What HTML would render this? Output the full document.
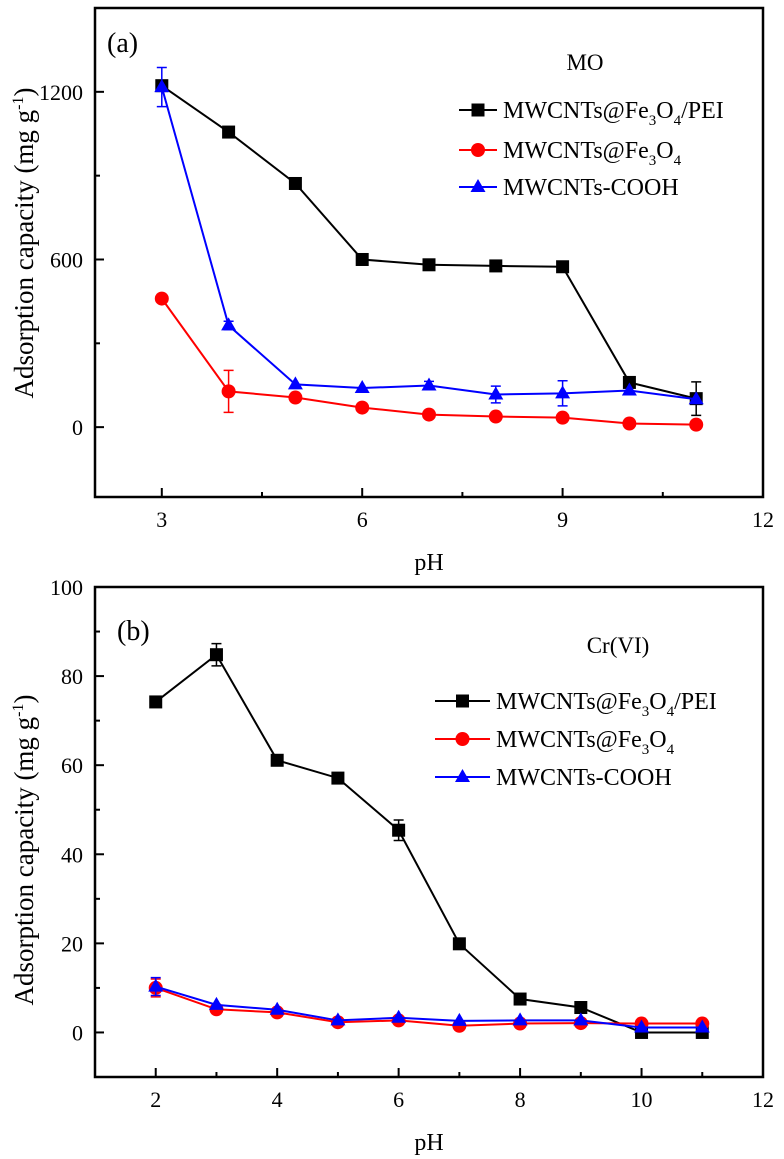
<!DOCTYPE html>
<html><head><meta charset="utf-8"><style>
html,body{margin:0;padding:0;background:#fff;}
svg{display:block;font-family:"Liberation Serif",serif;}
svg text, svg tspan{font-family:"Liberation Serif",serif;}
</style></head><body>
<svg id="chart" width="784" height="1159" viewBox="0 0 784 1159" xmlns="http://www.w3.org/2000/svg">
<g id="pa"></g>
<g id="pb"></g>
</svg>
<script>
// Panel (a) data: MO
const phA = [3,4,5,6,7,8,9,10,11];
const peiA = [1222,1056,872,600,581,577,574,160,102];
const peiErrA = [0,0,0,0,0,0,0,0,60];
const feA = [460,128,106,70,45,38,34,13,9];
const feErrA = [0,75,0,0,15,0,0,0,0];
const coohA = [1217,364,153,140,149,117,121,131,100];
const coohErrA = [70,15,0,0,15,30,45,0,0];
const xTicksA = [3,6,9,12];
const yTicksA = [0,600,1200];
// Panel (b) data: Cr(VI)
const phB = [2,3,4,5,6,7,8,9,10,11];
const peiB = [74.2,84.8,61.1,57.1,45.4,19.9,7.5,5.6,0,0];
const peiErrB = [0,2.5,0,0,2.3,0,0,0,0,0];
const feB = [10,5.2,4.5,2.3,2.7,1.5,2,2.1,2,2];
const feErrB = [2,0,0,0,0,0,0,0,0,0];
const coohB = [10.3,6.2,5.1,2.7,3.3,2.6,2.7,2.7,1.1,1.1];
const coohErrB = [2,0,0,0,0,0,0,0,0,0];
const xTicksB = [2,4,6,8,10,12];
const yTicksB = [0,20,40,60,80,100];

const NS="http://www.w3.org/2000/svg";
const FF='"Liberation Serif", serif';
function mk(parent,tag,attrs){const e=document.createElementNS(NS,tag);for(const k in attrs)e.setAttribute(k,attrs[k]);if(tag==='text')e.setAttribute('font-family',FF);parent.appendChild(e);return e;}

function panel(g,cfg){
  const L=95,R=763,T=cfg.top,B=cfg.bottom;
  const sx=v=>L+(v-cfg.xmin)/(cfg.xmax-cfg.xmin)*(R-L);
  const sy=v=>B-(v-cfg.ymin)/(cfg.ymax-cfg.ymin)*(B-T);
  const fr=mk(g,'rect',{x:L,y:T,width:R-L,height:B-T,fill:'none',stroke:'#000','stroke-width':2.5});
  
  
  cfg.xticks.forEach(t=>{
    const tk=mk(g,'line',{x1:sx(t),x2:sx(t),y1:B,y2:B-9,stroke:'#000','stroke-width':2});
    
    
    const lb=mk(g,'text',{x:sx(t),y:B+30,'text-anchor':'middle','font-size':22});
    lb.textContent=t;
    
    
  });
  cfg.xminor.forEach(t=>{
    const tk=mk(g,'line',{x1:sx(t),x2:sx(t),y1:B,y2:B-5,stroke:'#000','stroke-width':2});
    
    
  });
  cfg.yticks.forEach(t=>{
    const tk=mk(g,'line',{x1:L,x2:L+9,y1:sy(t),y2:sy(t),stroke:'#000','stroke-width':2});
    
    
    const lb=mk(g,'text',{x:L-12,y:sy(t)+8,'text-anchor':'end','font-size':22});
    lb.textContent=t;
    
    
  });
  cfg.yminor.forEach(t=>{
    const tk=mk(g,'line',{x1:L,x2:L+5,y1:sy(t),y2:sy(t),stroke:'#000','stroke-width':2});
    
    
  });
  const xt=mk(g,'text',{x:(L+R)/2,y:B+73,'text-anchor':'middle','font-size':24});
  xt.textContent='pH';
  
  
  const yt=mk(g,'text',{x:0,y:0,'text-anchor':'middle','font-size':27,transform:`translate(33,${cfg.ytY}) rotate(-90)`});
  yt.innerHTML='Adsorption capacity (mg g<tspan dy="-10" font-size="16">-1</tspan><tspan dy="10">)</tspan>';
  
  
  const pl=mk(g,'text',{x:cfg.plx,y:cfg.ply,'font-size':28});
  pl.textContent=cfg.plabel;
  
  
  const tt=mk(g,'text',{x:cfg.ttx,y:cfg.tty,'text-anchor':'middle','font-size':23});
  tt.textContent=cfg.title;
  
  

  function marker(p,shape,x,y,color){
    let m;
    if(shape==='sq') m=mk(p,'rect',{x:x-6.5,y:y-6.5,width:13,height:13,fill:color});
    else if(shape==='ci') m=mk(p,'circle',{cx:x,cy:y,r:7,fill:color});
    else m=mk(p,'polygon',{points:`${x},${y-8} ${x-7.5},${y+5} ${x+7.5},${y+5}`,fill:color});
    return m;
  }
  cfg.series.forEach(s=>{
    const sg=mk(g,'g',{});
    
    
    const pts=cfg.xs.map((x,i)=>sx(x)+','+sy(s.vals[i])).join(' ');
    const ln=mk(sg,'polyline',{points:pts,fill:'none',stroke:s.color,'stroke-width':2});
    
    
    cfg.xs.forEach((x,i)=>{
      const e=s.err[i];
      if(e>0){
        const X=sx(x),y1=sy(s.vals[i]+e),y2=sy(s.vals[i]-e);
        const eb=mk(sg,'path',{d:`M${X},${y1}V${y2}M${X-5},${y1}H${X+5}M${X-5},${y2}H${X+5}`,stroke:s.color,'stroke-width':1.5,fill:'none'});
        
        
      }
      const m=marker(sg,s.shape,sx(x),sy(s.vals[i]),s.color);
      
      
    });
  });
  cfg.series.forEach((s,i)=>{
    const y=cfg.legY[i];
    const lg=mk(g,'g',{});
    
    
    mk(lg,'line',{x1:cfg.legX1,x2:cfg.legX2,y1:y,y2:y,stroke:s.color,'stroke-width':2});
    marker(lg,s.shape,(cfg.legX1+cfg.legX2)/2,y,s.color);
    const t=mk(lg,'text',{x:cfg.legX2+6,y:y+8,'font-size':24});
    t.innerHTML=s.label;
  });
}
const lab1='MWCNTs@Fe<tspan dy="7" font-size="15">3</tspan><tspan dy="-7">O</tspan><tspan dy="7" font-size="15">4</tspan><tspan dy="-7">/PEI</tspan>';
const lab2='MWCNTs@Fe<tspan dy="7" font-size="15">3</tspan><tspan dy="-7">O</tspan><tspan dy="7" font-size="15">4</tspan>';
panel(document.getElementById('pa'),{
  top:8,bottom:497,xmin:2,xmax:12,ymin:-250,ymax:1500,
  xticks:xTicksA,xminor:[4.5,7.5,10.5],yticks:yTicksA,yminor:[300,900],
  xs:phA,plabel:'(a)',plx:107,ply:52,title:'MO',ttx:585,tty:70,ytY:243,
  legX1:459,legX2:497,legY:[110,150,187],
  series:[
    {name:'series-pei',vals:peiA,err:peiErrA,color:'#000',shape:'sq',label:lab1},
    {name:'series-fe3o4',vals:feA,err:feErrA,color:'#f00',shape:'ci',label:lab2},
    {name:'series-cooh',vals:coohA,err:coohErrA,color:'#00f',shape:'tr',label:'MWCNTs-COOH'}
  ]
});
panel(document.getElementById('pb'),{
  top:587,bottom:1077,xmin:1,xmax:12,ymin:-10,ymax:100,
  xticks:xTicksB,xminor:[3,5,7,9,11],yticks:yTicksB,yminor:[10,30,50,70,90],
  xs:phB,plabel:'(b)',plx:117,ply:640,title:'Cr(VI)',ttx:618,tty:653,ytY:850,
  legX1:435,legX2:490,legY:[701,739,777],
  series:[
    {name:'series-pei',vals:peiB,err:peiErrB,color:'#000',shape:'sq',label:lab1},
    {name:'series-fe3o4',vals:feB,err:feErrB,color:'#f00',shape:'ci',label:lab2},
    {name:'series-cooh',vals:coohB,err:coohErrB,color:'#00f',shape:'tr',label:'MWCNTs-COOH'}
  ]
});
</script>
</body></html>
